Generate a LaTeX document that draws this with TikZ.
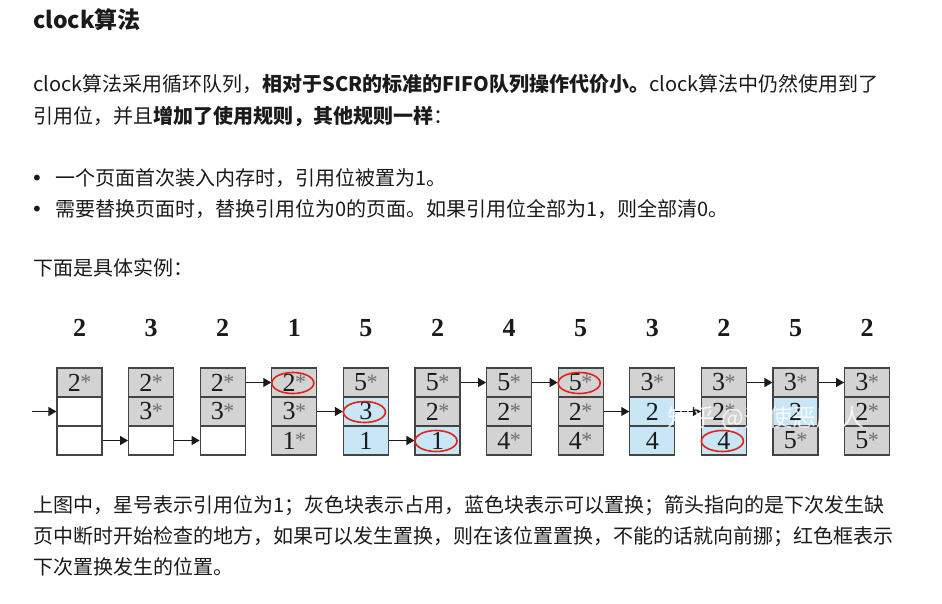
\documentclass[tikz,border=0pt]{standalone}
\usepackage{fontspec}
\setmainfont{Noto Sans CJK SC}
\newfontfamily\timesfont{Liberation Serif}
\newfontfamily\dotfont{DejaVu Sans}
\usetikzlibrary{arrows.meta, positioning, calc}
\definecolor{textdark}{HTML}{1A1A1A}
\definecolor{usedGray}{HTML}{D3D3D3}
\definecolor{freeBlue}{HTML}{C8E6F6}
\definecolor{boxLine}{HTML}{444444}
\definecolor{starGray}{HTML}{6E6E6E}
\definecolor{markRed}{HTML}{E2231A}
\newcommand{\refstar}{\kern-0.5pt\textcolor{starGray}{\fontsize{22}{22}\selectfont\raisebox{1.5pt}{*}}}

\begin{document}
\begin{tikzpicture}[
    x=1pt, y=-1pt,
    font=\fontsize{20}{24}\selectfont,
    text=textdark,
    >={Triangle[length=8pt, width=9pt]},
    bodytext/.style={anchor=base west, inner sep=0pt},
    titletext/.style={bodytext, font=\bfseries\fontsize{23}{26}\selectfont},
    bullet/.style={bodytext, font=\dotfont\fontsize{20}{24}\selectfont},
    cell/.style={draw=boxLine, line width=1.1pt, minimum width=45pt, minimum height=29pt, inner sep=0pt, font=\timesfont\fontsize{26}{26}\selectfont},
    usedcell/.style={cell, fill=usedGray},
    freecell/.style={cell, fill=freeBlue},
    emptycell/.style={cell, fill=white},
    refnum/.style={font=\timesfont\bfseries\fontsize{26}{26}\selectfont},
    ptr/.style={->, line width=1.3pt, draw=textdark},
    redmark/.style={draw=markRed, line width=1.6pt}
]
\useasboundingbox (0,0) rectangle (942,603);

% --- 1. HEADING AND RULES ---
\node[titletext] (title) at (33, 28) {clock算法};

\node[bodytext] (intro1) at (33, 91) {clock算法采用循环队列，{\bfseries 相对于SCR的标准的FIFO队列操作代价小。}clock算法中仍然使用到了};
\node[bodytext] (intro2) at (33, 123) {引用位，并且{\bfseries 增加了使用规则，其他规则一样}：};

\node[bullet] (dot1) at (31, 185) {•};
\node[bodytext] (rule1) at (55, 185) {一个页面首次装入内存时，引用位被置为1。};
\node[bullet] (dot2) at (31, 216) {•};
\node[bodytext] (rule2) at (55, 216) {需要替换页面时，替换引用位为0的页面。如果引用位全部为1，则全部清0。};

\node[bodytext] (lead) at (33, 275) {下面是具体实例：};

% --- 2. PAGE FRAMES (request / top / middle / bottom) ---
\foreach \i/\req/\ta/\sa/\tb/\sb/\tc/\sc in {
    1/2/2\refstar/usedcell/{}/emptycell/{}/emptycell,
    2/3/2\refstar/usedcell/3\refstar/usedcell/{}/emptycell,
    3/2/2\refstar/usedcell/3\refstar/usedcell/{}/emptycell,
    4/1/2\refstar/usedcell/3\refstar/usedcell/1\refstar/usedcell,
    5/5/5\refstar/usedcell/3/freecell/1/freecell,
    6/2/5\refstar/usedcell/2\refstar/usedcell/1/freecell,
    7/4/5\refstar/usedcell/2\refstar/usedcell/4\refstar/usedcell,
    8/5/5\refstar/usedcell/2\refstar/usedcell/4\refstar/usedcell,
    9/3/3\refstar/usedcell/2/freecell/4/freecell,
    10/2/3\refstar/usedcell/2\refstar/usedcell/4/freecell,
    11/5/3\refstar/usedcell/2/freecell/5\refstar/usedcell,
    12/2/3\refstar/usedcell/2\refstar/usedcell/5\refstar/usedcell} {
    \node[refnum] (req\i) at ({79.5+71.6*(\i-1)}, 328) {\req};
    \node[\sa] (c\i-1) at ({79.5+71.6*(\i-1)}, 382.5) {\ta};
    \node[\sb] (c\i-2) at ({79.5+71.6*(\i-1)}, 411.5) {\tb};
    \node[\sc] (c\i-3) at ({79.5+71.6*(\i-1)}, 440.5) {\tc};
}

% --- 3. CLOCK POINTER ---
\coordinate (start) at (32, 411.5);
\draw[ptr] (start) -- (c1-2.west);
\foreach \a/\b/\r in {1/2/3, 2/3/3, 3/4/1, 4/5/2, 5/6/3, 6/7/1, 7/8/1, 8/9/2, 9/10/2, 10/11/1, 11/12/1}
    \draw[ptr] (c\a-\r.east) -- (c\b-\r.west);

% --- 4. NEXT REPLACEMENT ---
\foreach \m in {c4-1, c5-2, c6-3, c8-1, c10-3}
    \draw[redmark] ($(\m)+(-1.5,0.5)$) ellipse (21pt and 10.5pt);

\node[text=white, opacity=0.8, font=\fontsize{24}{24}\selectfont] (mark) at (766, 418) {知乎 @天使恶魔人};

% --- 5. LEGEND TEXT ---
\node[bodytext] (note1) at (33, 512) {上图中，星号表示引用位为1；灰色块表示占用，蓝色块表示可以置换；箭头指向的是下次发生缺};
\node[bodytext] (note2) at (33, 543) {页中断时开始检查的地方，如果可以发生置换，则在该位置置换，不能的话就向前挪；红色框表示};
\node[bodytext] (note3) at (33, 574) {下次置换发生的位置。};

\end{tikzpicture}
\end{document}
